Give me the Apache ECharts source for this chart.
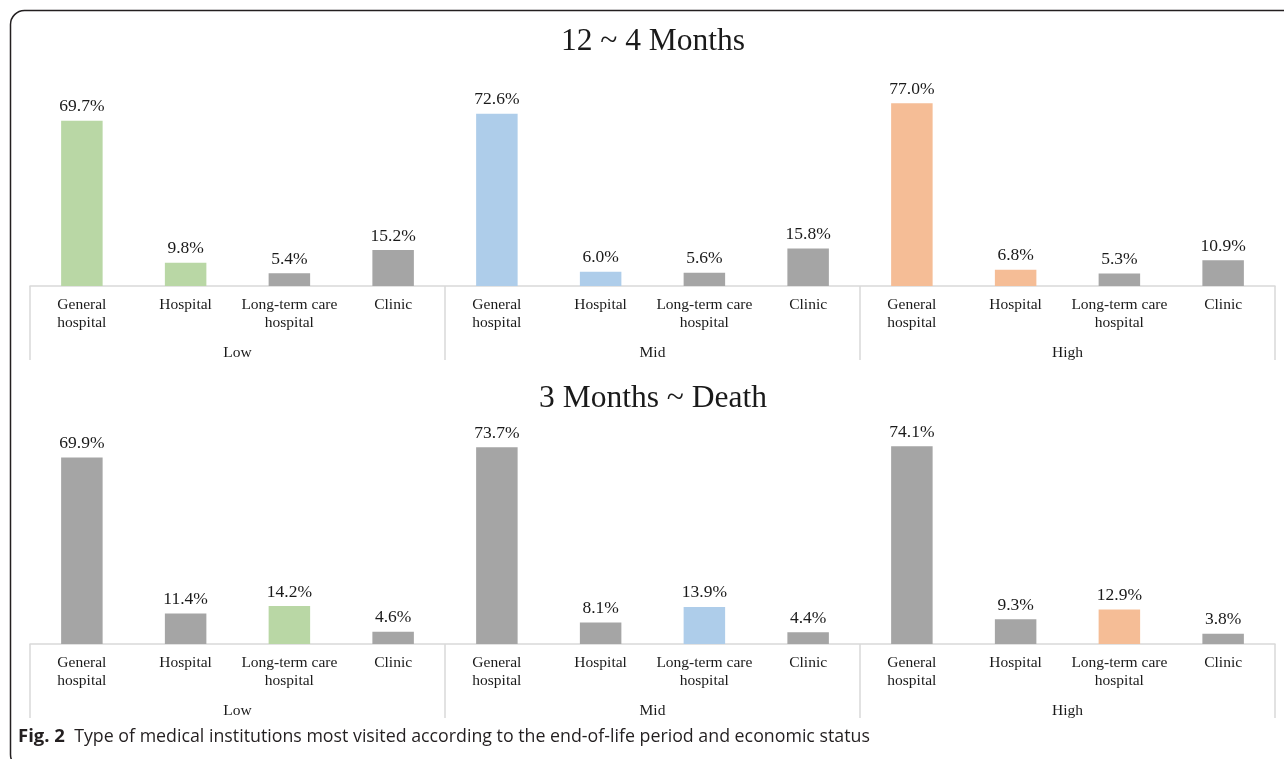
<!DOCTYPE html>
<html>
<head>
<meta charset="utf-8">
<script src="https://cdn.jsdelivr.net/npm/echarts@6/dist/echarts.min.js"></script>
<style>
  html, body { margin: 0; padding: 0; background: #fff; }
  #main { width: 1284px; height: 759px; }
</style>
</head>
<body>
<div id="main"></div>
<script>
// data
var institutions = ['General hospital', 'Hospital', 'Long-term care hospital', 'Clinic'];
var statusGroups = ['Low', 'Mid', 'High'];
var earlyValues = [69.7, 9.8, 5.4, 15.2, 72.6, 6.0, 5.6, 15.8, 77.0, 6.8, 5.3, 10.9];
var lateValues = [69.9, 11.4, 14.2, 4.6, 73.7, 8.1, 13.9, 4.4, 74.1, 9.3, 12.9, 3.8];
var panelTitles = ['12 ~ 4 Months', '3 Months ~ Death'];
var caption = 'Type of medical institutions most visited according to the end-of-life period and economic status';

// styling
var groupColors = ['#b9d7a5', '#aecdea', '#f5bd96'];
var grey = '#a5a5a5';
var earlyHighlight = [0, 1];   // institutions coloured in the top panel
var lateHighlight = [2];       // institutions coloured in the bottom panel
var serif = '"Liberation Serif", "Times New Roman", serif';
var ink = '#1a1a1a';

var cats = [];
statusGroups.forEach(function (g) {
  institutions.forEach(function (n) { cats.push(g + '|' + n); });
});

function barData(values, highlight) {
  return values.map(function (v, i) {
    var g = Math.floor(i / institutions.length);
    var k = i % institutions.length;
    return {
      value: v,
      itemStyle: { color: highlight.indexOf(k) >= 0 ? groupColors[g] : grey }
    };
  });
}

function catAxis(gridIndex) {
  return {
    type: 'category',
    gridIndex: gridIndex,
    data: cats,
    axisLine: { lineStyle: { color: '#d9d9d9', width: 1.5 } },
    axisTick: { show: false },
    axisLabel: {
      interval: 0,
      margin: 10,
      color: ink,
      fontFamily: serif,
      fontSize: 15.5,
      lineHeight: 18,
      formatter: function (v) {
        return v.split('|')[1].replace(/ hospital$/, '\nhospital');
      }
    }
  };
}

function groupAxis(gridIndex) {
  return {
    type: 'category',
    gridIndex: gridIndex,
    position: 'bottom',
    data: statusGroups,
    axisLine: { show: false },
    axisTick: { show: true, length: 74, lineStyle: { color: '#d9d9d9', width: 1.5 } },
    axisLabel: {
      interval: 0,
      margin: 58,
      color: ink,
      fontFamily: serif,
      fontSize: 15.5,
      lineHeight: 18
    }
  };
}

function valueAxis(gridIndex, max) {
  return {
    type: 'value',
    gridIndex: gridIndex,
    min: 0,
    max: max,
    show: false,
    splitLine: { show: false }
  };
}

function barSeries(idx, values, highlight) {
  return {
    type: 'bar',
    xAxisIndex: idx * 2,
    yAxisIndex: idx,
    barWidth: '40%',
    data: barData(values, highlight),
    label: {
      show: true,
      position: 'top',
      distance: 5,
      color: ink,
      fontFamily: serif,
      fontSize: 17.5,
      formatter: function (p) { return p.value.toFixed(1) + '%'; }
    }
  };
}

function panelTitle(text, y) {
  return {
    type: 'text',
    x: 653,
    y: y,
    style: {
      text: text,
      fontFamily: serif,
      fontSize: 31.5,
      fill: ink,
      textAlign: 'center',
      textVerticalAlign: 'middle'
    }
  };
}

var chart = echarts.init(document.getElementById('main'), null, { renderer: 'canvas' });
chart.setOption({
  animation: false,
  backgroundColor: '#fff',
  grid: [
    { left: 30, right: 9, top: 72.5, height: 213.5 },
    { left: 30, right: 9, top: 430.5, height: 213.5 }
  ],
  xAxis: [catAxis(0), groupAxis(0), catAxis(1), groupAxis(1)],
  yAxis: [valueAxis(0, 90), valueAxis(1, 80)],
  series: [
    barSeries(0, earlyValues, earlyHighlight),
    barSeries(1, lateValues, lateHighlight)
  ],
  graphic: [
    {
      type: 'rect',
      shape: { x: 10.5, y: 10.5, width: 1300, height: 758, r: 14 },
      style: { fill: 'none', stroke: '#231f20', lineWidth: 1.5 },
      silent: true
    },
    panelTitle(panelTitles[0], 42),
    panelTitle(panelTitles[1], 399),
    {
      type: 'text',
      left: 18,
      top: 727,
      style: {
        text: '{b|Fig. 2}  ' + caption,
        fontFamily: '"Open Sans", "Noto Sans", sans-serif',
        fontSize: 17.8,
        fill: '#231f20',
        rich: {
          b: { fontFamily: '"Open Sans", "Noto Sans", sans-serif', fontSize: 18.5, fontWeight: 'bold', fill: '#231f20' }
        }
      }
    }
  ]
});
</script>
</body>
</html>
